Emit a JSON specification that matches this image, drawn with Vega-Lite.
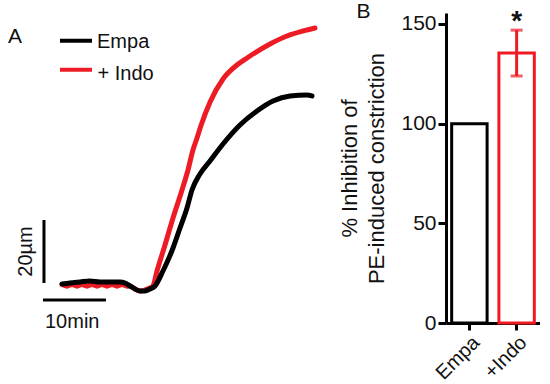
{
  "$schema": "https://vega.github.io/schema/vega-lite/v6.json",
  "padding": 0,
  "spacing": 8,
  "config": {"view": {"stroke": null}, "font": "Liberation Sans"},
  "datasets": {
    "empa": [
      {"t":0,"v":-0.32},{"t":1.27,"v":0},{"t":2.86,"v":0.32},{"t":4.44,"v":0.63},{"t":6.03,"v":0.32},{"t":7.62,"v":0.32},{"t":9.21,"v":0.32},{"t":10.0,"v":0},{"t":10.79,"v":-0.95},{"t":11.59,"v":-1.9},{"t":12.38,"v":-2.54},{"t":13.17,"v":-2.54},{"t":13.97,"v":-1.9},{"t":14.76,"v":-0.95},{"t":16.03,"v":3.81},{"t":17.62,"v":11.11},{"t":18.73,"v":17.46},{"t":19.84,"v":23.81},{"t":20.63,"v":29.52},{"t":21.9,"v":34.6},{"t":23.49,"v":38.73},{"t":25.56,"v":44.13},{"t":28.25,"v":50.16},{"t":30.95,"v":54.6},{"t":33.49,"v":57.78},{"t":36.19,"v":59.37},{"t":38.89,"v":59.68},{"t":39.68,"v":59.37}
    ],
    "indo": [
      {"t":0,"v":-0.5},{"t":0.79,"v":-1.0},{"t":1.59,"v":-0.5},{"t":2.38,"v":-1.0},{"t":3.17,"v":-0.5},{"t":3.97,"v":-1.0},{"t":4.76,"v":-0.5},{"t":5.56,"v":-1.0},{"t":6.35,"v":-0.5},{"t":7.14,"v":-1.0},{"t":7.94,"v":-0.5},{"t":8.73,"v":-1.0},{"t":9.52,"v":-0.5},{"t":10.32,"v":-1.0},{"t":10.79,"v":-0.95},{"t":11.59,"v":-1.9},{"t":12.38,"v":-2.54},{"t":13.17,"v":-2.22},{"t":13.97,"v":-1.59},{"t":14.44,"v":-0.95},{"t":15.08,"v":3.81},{"t":16.35,"v":12.06},{"t":17.62,"v":20.63},{"t":19.05,"v":29.5},{"t":20.0,"v":35.87},{"t":20.79,"v":42.22},{"t":21.43,"v":46.03},{"t":22.06,"v":50.0},{"t":23.49,"v":57.4},{"t":25.56,"v":64.76},{"t":27.78,"v":69.21},{"t":29.37,"v":71.43},{"t":33.02,"v":75.87},{"t":35.71,"v":78.41},{"t":38.25,"v":80.0},{"t":40.16,"v":80.95}
    ]
  },
  "hconcat": [
    {
      "width": 330,
      "height": 310,
      "encoding": {
        "x": {"field": "t", "type": "quantitative", "scale": {"domain": [-9.84, 42.54], "nice": false, "zero": false}, "axis": null},
        "y": {"field": "v", "type": "quantitative", "scale": {"domain": [-12.7, 85.71], "nice": false, "zero": false}, "axis": null}
      },
      "layer": [
        {"data": {"name": "indo"}, "mark": {"type": "line", "color": "#ed1c24", "strokeWidth": 5, "interpolate": "monotone", "strokeCap": "round"}},
        {"data": {"name": "empa"}, "mark": {"type": "line", "color": "#000000", "strokeWidth": 5, "interpolate": "monotone", "strokeCap": "round"}},
        {
          "data": {"values": [{"t": -3.02, "t2": 6.98, "v": -5.4, "v2": -5.4}, {"t": -2.86, "t2": -2.86, "v": 0, "v2": 20}]},
          "mark": {"type": "rule", "color": "#000000", "strokeWidth": 3},
          "encoding": {"x2": {"field": "t2"}, "y2": {"field": "v2"}}
        },
        {
          "data": {"values": [{"series": "Empa", "t": -0.32, "t2": 4.76, "v": 76.9}, {"series": "+ Indo", "t": -0.32, "t2": 4.76, "v": 67.7}]},
          "mark": {"type": "rule", "strokeWidth": 4},
          "encoding": {
            "x2": {"field": "t2"},
            "color": {"field": "series", "type": "nominal", "scale": {"domain": ["Empa", "+ Indo"], "range": ["#000000", "#ed1c24"]}, "legend": null}
          }
        },
        {
          "data": {"values": [{"label": "Empa", "t": 5.56, "v": 74.6}, {"label": "+ Indo", "t": 5.64, "v": 64.4}, {"label": "10min", "t": -2.7, "v": -14.29}]},
          "mark": {"type": "text", "align": "left", "baseline": "alphabetic", "fontSize": 20, "color": "#111111"},
          "encoding": {"text": {"field": "label"}}
        },
        {
          "data": {"values": [{"label": "A", "t": -8.57, "v": 76.2}]},
          "mark": {"type": "text", "align": "left", "baseline": "alphabetic", "fontSize": 21, "color": "#111111"},
          "encoding": {"text": {"field": "label"}}
        },
        {
          "data": {"values": [{"label": "20µm", "t": -4.76, "v": 10}]},
          "mark": {"type": "text", "align": "center", "baseline": "alphabetic", "fontSize": 20, "angle": -90, "color": "#111111"},
          "encoding": {"text": {"field": "label"}}
        }
      ]
    },
    {
      "width": 94,
      "height": 310,
      "data": {"values": [{"group": "Empa", "mean": 100}, {"group": "+Indo", "mean": 135.4}]},
      "encoding": {
        "x": {
          "field": "group", "type": "nominal", "sort": ["Empa", "+Indo"],
          "scale": {"paddingInner": 0.25, "paddingOuter": 0.12},
          "axis": {"title": null, "labelAngle": -45, "labelFontSize": 20, "labelColor": "#111111", "tickSize": 7, "tickWidth": 3, "tickColor": "#000000", "domainWidth": 3, "domainColor": "#000000", "labelPadding": 2}
        }
      },
      "layer": [
        {
          "mark": {"type": "bar", "fill": "white", "strokeWidth": 3},
          "encoding": {
            "y": {
              "field": "mean", "type": "quantitative",
              "scale": {"domain": [0, 155.5], "nice": false},
              "axis": {"values": [0, 50, 100, 150], "title": ["% Inhibition of", "PE-induced constriction"], "titleFontSize": 22, "titleFontWeight": "normal", "titleLineHeight": 27, "titlePadding": 12, "titleColor": "#111111", "labelFontSize": 21, "labelColor": "#111111", "labelPadding": 2, "tickSize": 8, "tickWidth": 3, "tickColor": "#000000", "domainWidth": 3, "domainColor": "#000000", "grid": false}
            },
            "stroke": {"field": "group", "type": "nominal", "scale": {"domain": ["Empa", "+Indo"], "range": ["#000000", "#ed1c24"]}, "legend": null}
          }
        },
        {
          "data": {"values": [{"group": "Empa", "panel": "B", "y": 153}]},
          "mark": {"type": "text", "align": "left", "baseline": "alphabetic", "fontSize": 21, "dx": -113, "color": "#111111"},
          "encoding": {"y": {"field": "y", "type": "quantitative"}, "text": {"field": "panel"}}
        },
        {
          "data": {"values": [{"group": "+Indo", "lo": 123.9, "hi": 146.9, "sig": "*"}]},
          "layer": [
            {"mark": {"type": "rule", "color": "#ed1c24", "strokeWidth": 3}, "encoding": {"y": {"field": "lo", "type": "quantitative"}, "y2": {"field": "hi"}}},
            {"mark": {"type": "tick", "color": "#ed1c24", "thickness": 3, "size": 12}, "encoding": {"y": {"field": "lo", "type": "quantitative"}}},
            {"mark": {"type": "tick", "color": "#ed1c24", "thickness": 3, "size": 12}, "encoding": {"y": {"field": "hi", "type": "quantitative"}}},
            {"mark": {"type": "text", "fontSize": 28, "fontWeight": "bold", "baseline": "alphabetic", "color": "#111111"}, "encoding": {"y": {"field": "hi", "type": "quantitative"}, "text": {"field": "sig"}}}
          ]
        }
      ]
    }
  ]
}
